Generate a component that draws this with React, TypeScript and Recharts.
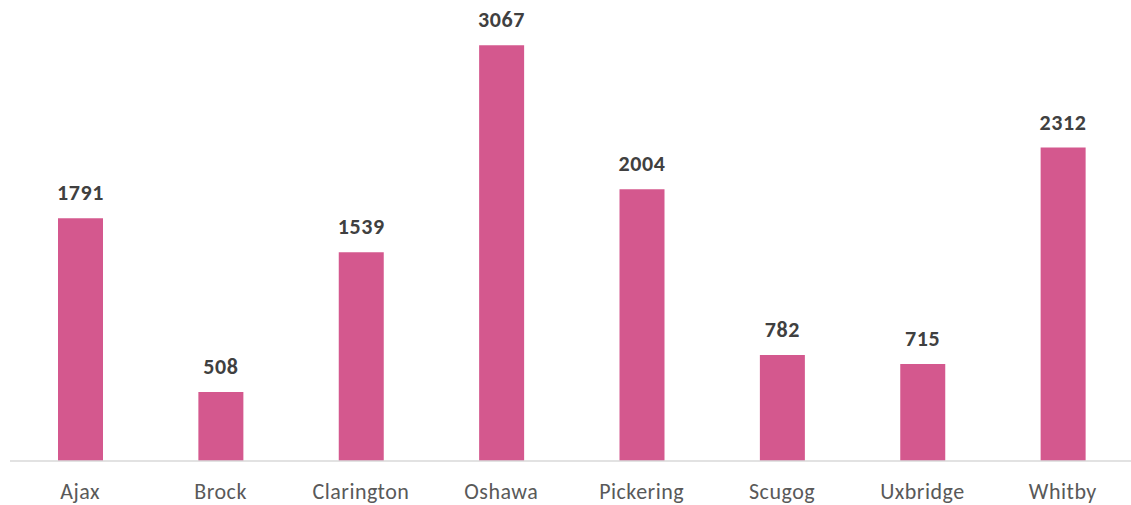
import { BarChart, Bar, XAxis, YAxis, LabelList } from "recharts";

const towns = ["Ajax", "Brock", "Clarington", "Oshawa", "Pickering", "Scugog", "Uxbridge", "Whitby"];
const counts = [1791, 508, 1539, 3067, 2004, 782, 715, 2312];

const data = towns.map((town, i) => ({ town, count: counts[i] }));

const font = "Carlito, Calibri, Lato, sans-serif";

export default function App() {
  return (
    <div style={{ position: "absolute", left: 0, top: 0, width: 1131, height: 505, overflow: "hidden", background: "#fff" }}>
      <BarChart
        width={1133}
        height={505}
        data={data}
        margin={{ top: 0, right: 0, left: 10, bottom: 0 }}
        barCategoryGap={0}
      >
        <XAxis
          dataKey="town"
          height={44}
          tickLine={false}
          tickSize={0}
          tickMargin={22}
          axisLine={{ stroke: "#d9d9d9", strokeWidth: 1.5 }}
          tick={{ fontSize: 22, fill: "#595959", fontFamily: font, letterSpacing: 0.5 }}
          interval={0}
        />
        <YAxis hide domain={[0, 3400]} />
        <Bar dataKey="count" fill="#d4588e" barSize={45} isAnimationActive={false}>
          <LabelList
            dataKey="count"
            position="top"
            offset={18}
            style={{ fontSize: 22, fontWeight: 700, fill: "#404040", fontFamily: font, letterSpacing: 0.6 }}
          />
        </Bar>
      </BarChart>
    </div>
  );
}
